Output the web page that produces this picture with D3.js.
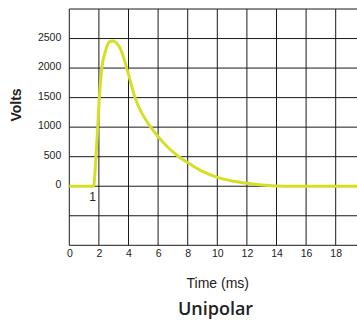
<!DOCTYPE html>
<html>
<head>
<meta charset="utf-8">
<script src="https://cdn.jsdelivr.net/npm/d3@7"></script>
<style>
  html, body { margin: 0; padding: 0; background: #fff; }
  svg { display: block; }
</style>
</head>
<body>
<svg id="chart" width="357" height="320"></svg>
<script>
// Unipolar pulse waveform: voltage vs time
const timeMs = [0, 1.64, 1.8, 1.92, 2.03, 2.2, 2.46, 2.69, 2.97, 3.2, 3.5, 3.88, 4.44, 5.5, 6, 7.4, 8, 9, 10, 11, 12, 13, 14, 15, 20];
const volts  = [0, 0, 500, 1000, 1500, 2000, 2300, 2440, 2460, 2420, 2300, 2000, 1500, 1000, 840, 500, 400, 250, 150, 90, 50, 20, 5, 0, 0];

const xTicks = [0, 2, 4, 6, 8, 10, 12, 14, 16, 18];
const xGrid = [0, 2, 4, 6, 8, 10, 12, 14, 16, 18, 20];
const yTicks = [0, 500, 1000, 1500, 2000, 2500];
const yGrid = [-1000, -500, 0, 500, 1000, 1500, 2000, 2500, 3000];

const svg = d3.select("#chart");

const x = d3.scaleLinear().domain([0, 20]).range([69.3, 365.3]);
const y = d3.scaleLinear().domain([-1000, 3000]).range([245.3, 9]);

const gridColor = "#1a1a1a";
const grid = svg.append("g").attr("class", "grid");

grid.selectAll("line.v").data(xGrid).join("line")
  .attr("class", "v")
  .attr("x1", d => x(d)).attr("x2", d => x(d))
  .attr("y1", y(3000)).attr("y2", y(-1000))
  .attr("stroke", gridColor).attr("stroke-width", 1);

grid.selectAll("line.h").data(yGrid).join("line")
  .attr("class", "h")
  .attr("x1", x(0)).attr("x2", x(20))
  .attr("y1", d => y(d)).attr("y2", d => y(d))
  .attr("stroke", gridColor).attr("stroke-width", 1);

// Axis labels
const yAxis = d3.axisLeft(y).tickValues(yTicks).tickSize(0).tickPadding(8).tickFormat(d3.format("d"));
const gy = svg.append("g").attr("transform", `translate(${x(0)},0)`).call(yAxis);
gy.select(".domain").remove();
gy.selectAll("text")
  .attr("font-family", "Liberation Sans, Arial, sans-serif")
  .attr("font-size", 10.5).attr("fill", "#222")
  .attr("dy", "0.15em");

const xAxis = d3.axisBottom(x).tickValues(xTicks).tickSize(0).tickPadding(4);
const gx = svg.append("g").attr("transform", `translate(0,${y(-1000)})`).call(xAxis);
gx.select(".domain").remove();
gx.selectAll("text")
  .attr("font-family", "Liberation Sans, Arial, sans-serif")
  .attr("font-size", 10.5).attr("fill", "#222");

// Waveform
const line = d3.line()
  .x((d, i) => x(timeMs[i]))
  .y(d => y(d))
  .curve(d3.curveMonotoneX);

svg.append("path")
  .datum(volts)
  .attr("d", line)
  .attr("fill", "none")
  .attr("stroke", "#d4df26")
  .attr("stroke-width", 3)
  .attr("stroke-linejoin", "round");

// Marker label at pulse start
svg.append("text")
  .attr("x", x(1.57)).attr("y", y(0) + 14.5)
  .attr("text-anchor", "middle")
  .attr("font-family", "Liberation Sans, Arial, sans-serif")
  .attr("font-size", 12).attr("fill", "#222")
  .text("1");

// Titles
svg.append("text")
  .attr("transform", `translate(21,105) rotate(-90)`)
  .attr("text-anchor", "middle")
  .attr("font-family", "Liberation Sans, Arial, sans-serif")
  .attr("font-weight", "bold")
  .attr("font-size", 14).attr("fill", "#222")
  .text("Volts");

svg.append("text")
  .attr("x", 217.8).attr("y", 288)
  .attr("text-anchor", "middle")
  .attr("font-family", "Liberation Sans, Arial, sans-serif")
  .attr("font-size", 14).attr("fill", "#222")
  .text("Time (ms)");

svg.append("text")
  .attr("x", 215.5).attr("y", 315)
  .attr("text-anchor", "middle")
  .attr("font-family", "Open Sans, sans-serif")
  .attr("font-weight", 600)
  .attr("font-size", 18).attr("fill", "#222")
  .text("Unipolar");
</script>
</body>
</html>
